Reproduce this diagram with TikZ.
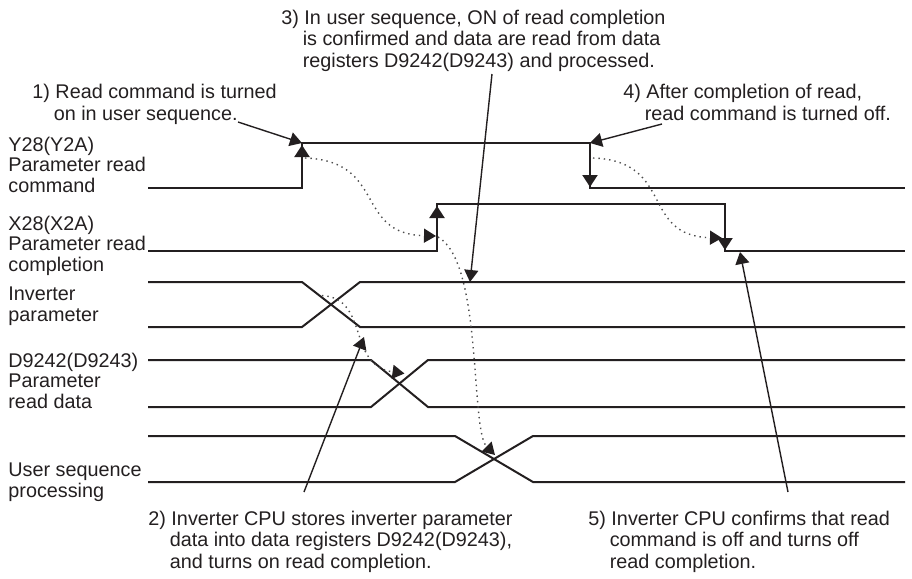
\documentclass[tikz,border=0pt]{standalone}
\usepackage{fontspec}
\setmainfont{Liberation Sans}
\usepackage{tikz}
\usetikzlibrary{arrows.meta}
\definecolor{ink}{RGB}{35,31,32}
\newcommand{\noteindent}{\hspace*{1.08em}}

\begin{document}
\begin{tikzpicture}[
            x=0.5pt, y=-0.5pt, % one unit per pixel of the sheet, y going down
            wave/.style={draw=ink, line width=1pt}, % signal lines
            edgetip/.style={draw=ink, line width=1pt, -{Triangle[length=6pt,width=7.5pt]}}, % arrow on a signal edge
            callout/.style={draw=ink, line width=0.7pt, -{Triangle[length=6pt,width=7pt]}}, % note pointers
            cause/.style={draw=black!70, line width=0.7pt, dotted, -{Triangle[length=6pt,width=7pt,color=ink]}}, % dotted cause lines
            signame/.style={anchor=base west, inner sep=0pt, align=left, text=ink, font=\fontsize{9.9}{10.25}\selectfont}, % signal names, placed by last line
            note/.style={anchor=base west, inner sep=0pt, align=left, text=ink, font=\fontsize{9.9}{10.75}\selectfont} % numbered notes, placed by last line
            ]
        \useasboundingbox (0,0) rectangle (912,579);

        % signal names
        \node[signame] (ycmd) at (8,192) {Y28(Y2A)\\Parameter read\\command};
        \node[signame] (xcpl) at (8,271) {X28(X2A)\\Parameter read\\completion};
        \node[signame] (invp) at (8,321) {Inverter\\parameter};
        \node[signame] (rdat) at (8,408) {D9242(D9243)\\Parameter\\read data};
        \node[signame] (useq) at (8,497) {User sequence\\processing};

        % waveforms
        \draw[wave] (148,188) -| (302,143) -| (590,188) -- (905,188);
        \draw[wave] (148,251) -| (437,204) -| (725,251) -- (905,251);
        \draw[wave] (148,282) -- (302,282) -- (360,327) -- (905,327);
        \draw[wave] (148,327) -- (302,327) -- (360,282) -- (905,282);
        \draw[wave] (148,360) -- (371,360) -- (428,407) -- (905,407);
        \draw[wave] (148,407) -- (371,407) -- (428,360) -- (905,360);
        \draw[wave] (148,436) -- (455,436) -- (533,482) -- (905,482);
        \draw[wave] (148,482) -- (455,482) -- (533,436) -- (905,436);

        % points the notes refer to
        \coordinate (cmdon) at (302,143);
        \coordinate (cmdoff) at (590,143);
        \coordinate (cplon) at (437,204);
        \coordinate (cploff) at (725,251);
        \coordinate (cplend) at (740,252);
        \coordinate (invx) at (331,304.5);
        \coordinate (invread) at (470,282);
        \coordinate (datx) at (399.5,383.5);
        \coordinate (datset) at (364,337);
        \coordinate (usrx) at (494,459);

        % arrows on the edges
        \draw[edgetip] ([shift={(0,27)}]cmdon) -- ([shift={(0,2)}]cmdon);
        \draw[edgetip] ([shift={(0,28)}]cplon) -- ([shift={(0,2)}]cplon);
        \draw[edgetip] ([shift={(0,17)}]cmdoff) -- ([shift={(0,44)}]cmdoff);
        \draw[edgetip] ([shift={(0,-26)}]cploff) -- ([shift={(0,-1)}]cploff);

        % dotted cause lines
        \draw[cause] ([shift={(3,15)}]cmdon) .. controls +(82,3) and +(-82,-2) .. ([shift={(-1,32)}]cplon);
        \draw[cause] ([shift={(1,33)}]cplon) .. controls +(45,25) and +(-25,-25) .. ([shift={(1,-4)}]usrx);
        \draw[cause] ([shift={(3,15)}]cmdoff) .. controls +(82,3) and +(-82,-2) .. ([shift={(-3,-13)}]cploff);
        \draw[cause] ([shift={(-9,-9)}]invx) .. controls +(48,3) and +(-58,-8) .. ([shift={(5,-10)}]datx);

        % numbered notes
        \node[note] (note1) at (32,120) {1) Read command is turned\\\noteindent on in user sequence.};
        \node[note] (note3) at (281,67) {3) In user sequence, ON of read completion\\\noteindent is confirmed and data are read from data\\\noteindent registers D9242(D9243) and processed.};
        \node[note] (note4) at (623,120) {4) After completion of read,\\\noteindent read command is turned off.};
        \node[note] (note2) at (148,568) {2) Inverter CPU stores inverter parameter\\\noteindent data into data registers D9242(D9243),\\\noteindent and turns on read completion.};
        \node[note] (note5) at (588,568) {5) Inverter CPU confirms that read\\\noteindent command is off and turns off\\\noteindent read completion.};

        % note pointers
        \coordinate (from1) at (238,122);
        \coordinate (from3) at (492,74);
        \coordinate (from4) at (662,124);
        \coordinate (from2) at (304,492);
        \coordinate (from5) at (788,492);
        \draw[callout] (from1) -- (cmdon);
        \draw[callout] (from3) -- (invread);
        \draw[callout] (from4) -- (cmdoff);
        \draw[callout] (from2) -- (datset);
        \draw[callout] (from5) -- (cplend);

\end{tikzpicture}
\end{document}
